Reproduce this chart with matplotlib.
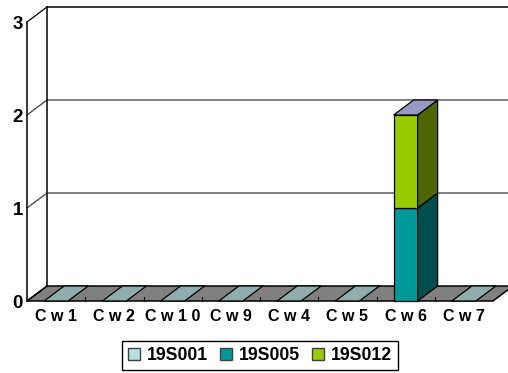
import matplotlib
matplotlib.use('Agg')
import matplotlib.pyplot as plt
from matplotlib.patches import Polygon, Patch

# Data
categories = ['C w 1', 'C w 2', 'C w 1 0', 'C w 9', 'C w 4', 'C w 5', 'C w 6', 'C w 7']
series_names = ['19S001', '19S005', '19S012']
s001 = [0, 0, 0, 0, 0, 0, 0, 0]
s005 = [0, 0, 0, 0, 0, 0, 1, 0]
s012 = [0, 0, 0, 0, 0, 0, 1, 0]
y_ticks = [0, 1, 2, 3]

front_colors = ['#B5E0E0', '#009999', '#99CC00']
side_colors = ['#5A7070', '#004D4D', '#4D6600']
flat_top = '#8FADAD'
stack_top = '#9999C4'

W, H = 508, 373
fig = plt.figure(figsize=(W / 100, H / 100), dpi=100)
# front plane of the 3d box
ax = fig.add_axes([27 / W, 1 - 301 / H, 466 / W, 279 / H])
ax.set_xlim(0, 8)
ax.set_ylim(0, 3)
ax.axis('off')

dx = 20 / 58.25   # depth in category units
dy = 15 / 93      # depth in value units
bar_w = 24 / 58.25
font = ['Liberation Sans', 'DejaVu Sans']

# floor
ax.add_patch(Polygon([(0, 0), (8, 0), (8 + dx, dy), (dx, dy)], closed=True, fc='#808080',
                     ec='black', lw=1.1, clip_on=False, zorder=1))

# walls and gridlines
for v in y_ticks:
    ax.plot([0, dx], [v, v + dy], color='black' if v in (0, 3) else '#404040', lw=0.9, clip_on=False, zorder=1)
    if v > 0:
        ax.plot([dx, 8 + dx], [v + dy, v + dy], color='black' if v == 3 else '#606060', lw=1.1,
                clip_on=False, zorder=1)
ax.plot([0, 0], [0, 3], color='black', lw=1.1, clip_on=False, zorder=1)
ax.plot([dx, dx], [dy, 3 + dy], color='black', lw=1.1, clip_on=False, zorder=1)

# bars
for i, cat in enumerate(categories):
    l = i + 0.5 - bar_w / 2
    r = i + 0.5 + bar_w / 2
    bottom = 0
    for vals, fc, sc in zip([s001, s005, s012], front_colors, side_colors):
        v = vals[i]
        if v == 0:
            continue
        ax.add_patch(Polygon([(l, bottom), (r, bottom), (r, bottom + v), (l, bottom + v)], closed=True,
                             fc=fc, ec='black', lw=0.9, clip_on=False, zorder=3))
        ax.add_patch(Polygon([(r, bottom), (r + dx, bottom + dy), (r + dx, bottom + v + dy), (r, bottom + v)],
                             closed=True, fc=sc, ec='black', lw=0.9, clip_on=False, zorder=3))
        bottom += v
    top = flat_top if bottom == 0 else stack_top
    ax.add_patch(Polygon([(l, bottom), (r, bottom), (r + dx, bottom + dy), (l + dx, bottom + dy)], closed=True,
                         fc=top, ec='black', lw=0.9, clip_on=False, zorder=3))
    ax.text(i + 0.5, -0.172, cat, ha='center', va='center', fontsize=11.5, fontweight='bold',
            family=font, clip_on=False)
    if i > 0:
        ax.plot([i, i], [0, 0.04], color='black', lw=0.8, clip_on=False, zorder=2)

for v in y_ticks:
    ax.text(-0.07, v - 0.025, str(v), ha='right', va='center', fontsize=13.5, fontweight='bold', family=font)

# legend
handles = [Patch(fc=c, ec='#404040', lw=1) for c in front_colors]
leg = fig.legend(handles, series_names, loc='center', bbox_to_anchor=(260 / W, 1 - 355.5 / H), ncol=3,
                 prop={'family': font, 'weight': 'bold', 'size': 12.7}, frameon=True, fancybox=False,
                 edgecolor='black', framealpha=1, borderpad=0.35, handlelength=0.7, handleheight=0.7,
                 handletextpad=0.4, columnspacing=0.65, borderaxespad=0)
leg.get_frame().set_linewidth(1)

plt.savefig('out.png', dpi=100)
